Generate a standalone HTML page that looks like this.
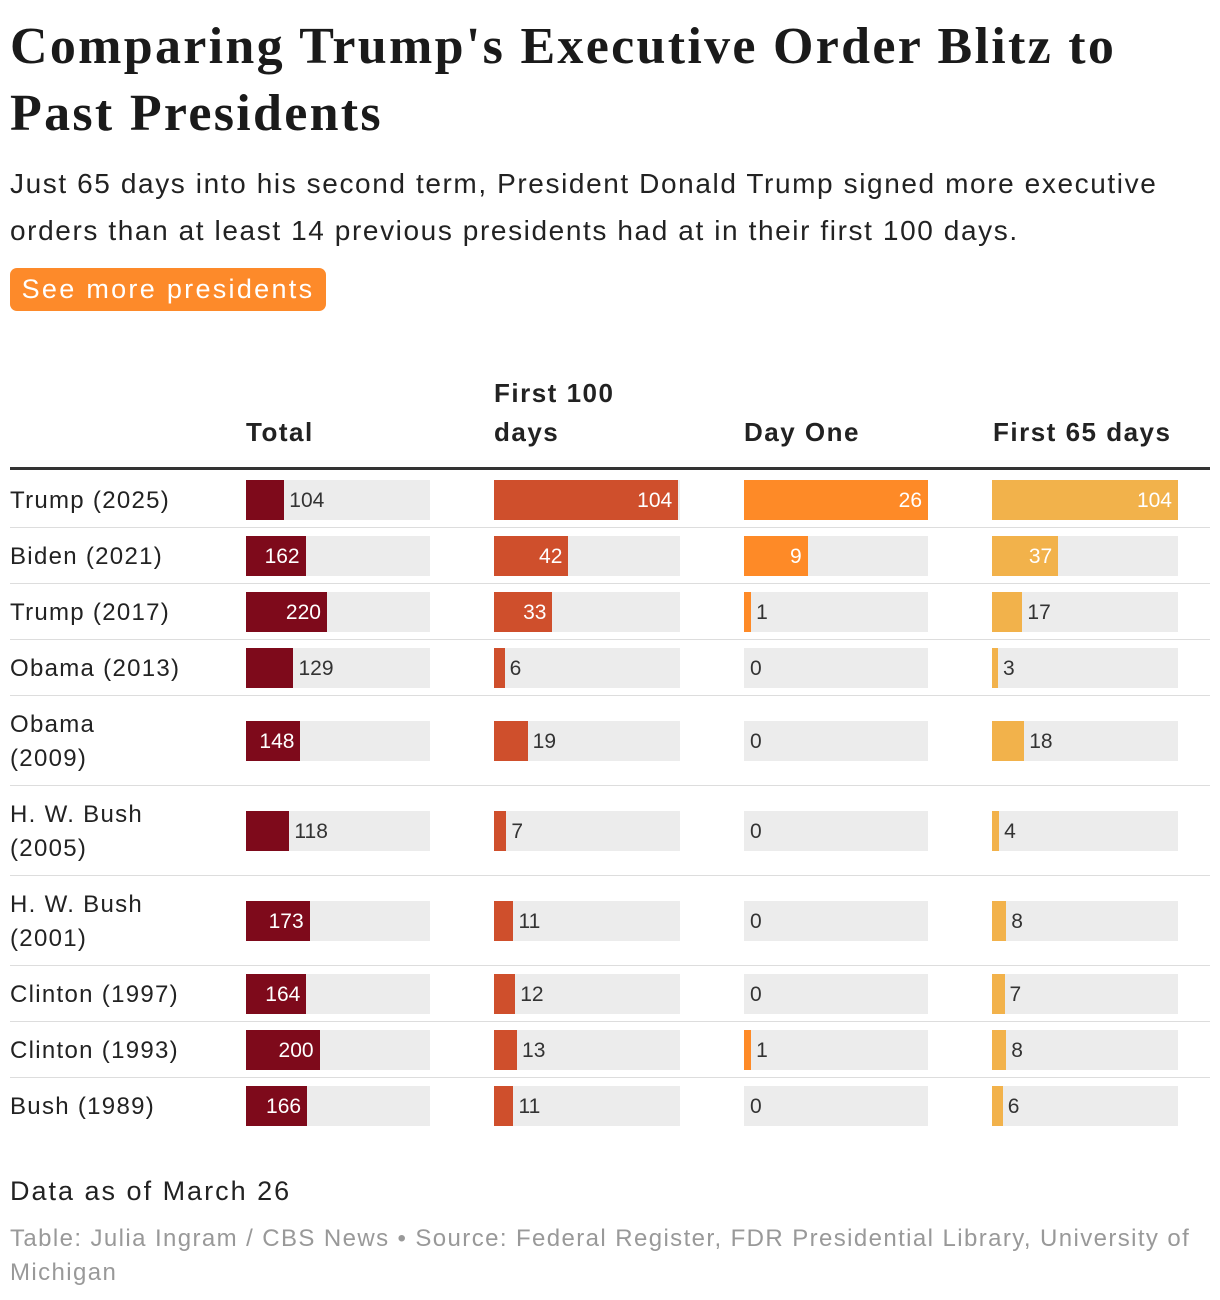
<!DOCTYPE html>
<html><head><meta charset="utf-8">
<style>
body{margin:0;width:1220px;height:1300px;background:#fff;font-family:"Liberation Sans",sans-serif;color:#222;position:relative;overflow:hidden}
.a{position:absolute;white-space:nowrap}
h1{position:absolute;left:10px;top:13px;margin:0;font-family:"Liberation Serif",serif;font-weight:bold;font-size:52px;line-height:67px;color:#1a1a1a;letter-spacing:2.3px}
.sub{left:10px;top:160px;font-size:28px;line-height:47px;color:#222;letter-spacing:1.6px}
.btn{left:10px;top:268px;width:316px;height:43px;background:#fd8a2a;border-radius:7px;color:#fff;font-size:27px;line-height:43px;text-align:center;letter-spacing:2.3px}
.hd{font-weight:bold;font-size:26px;line-height:39px;color:#222;letter-spacing:1.5px}
.nm{font-size:24px;line-height:34px;color:#222;letter-spacing:1.3px}
.lbl{font-size:21px;line-height:40px}
</style></head><body>
<h1>Comparing Trump's Executive Order Blitz to<br>Past Presidents</h1>
<div class="a sub">Just 65 days into his second term, President Donald Trump signed more executive<br>orders than at least 14 previous presidents had at in their first 100 days.</div>
<div class="a btn">See more presidents</div>
<div class="a hd" style="left:246px;top:413px">Total</div>
<div class="a hd" style="left:494px;top:374px">First 100<br>days</div>
<div class="a hd" style="left:744px;top:413px">Day One</div>
<div class="a hd" style="left:993px;top:413px">First 65 days</div>
<div class="a" style="left:10px;top:467px;width:1200px;height:3px;background:#333"></div>
<div id="rows"></div>
<div class="a" style="left:10px;top:1176px;font-size:27px;color:#222;letter-spacing:2px">Data as of March 26</div>
<div class="a" style="left:10px;top:1222px;font-size:24px;line-height:34px;color:#999;letter-spacing:1.4px">Table: Julia Ingram / CBS News • Source: Federal Register, FDR Presidential Library, University of<br>Michigan</div>
<script>
const presidents=["Trump (2025)","Biden (2021)","Trump (2017)","Obama (2013)","Obama<br>(2009)","H. W. Bush<br>(2005)","H. W. Bush<br>(2001)","Clinton (1997)","Clinton (1993)","Bush (1989)"];
const totalVals=[104,162,220,129,148,118,173,164,200,166];
const first100Vals=[104,42,33,6,19,7,11,12,13,11];
const dayOneVals=[26,9,1,0,0,0,0,0,1,0];
const first65Vals=[104,37,17,3,18,4,8,7,8,6];
const cols=[
 {name:"total",vals:totalVals,max:500,x:246,w:184,color:"#7e0a1b"},
 {name:"first-100",vals:first100Vals,max:105,x:494,w:186,color:"#cf4f2c"},
 {name:"day-one",vals:dayOneVals,max:26,x:744,w:184,color:"#fe8a27"},
 {name:"first-65",vals:first65Vals,max:104,x:992,w:186,color:"#f2b24b"}
];
const root=document.getElementById('rows');
let y=472;
presidents.forEach((p,i)=>{
 const two=p.includes('<br>');
 const h=two?90:56;
 const cy=y+h/2;
 const n=document.createElement('div');
 n.className='a nm';n.innerHTML=p;
 n.style.left='10px';n.style.top=(cy-(two?34:17)+1)+'px';
 
 
 root.appendChild(n);
 cols.forEach(c=>{
  const t=document.createElement('div');
  t.className='a';t.style.cssText=`left:${c.x}px;top:${cy-20}px;width:${c.w}px;height:40px;background:#ececec`;
  
  
  root.appendChild(t);
  const v=c.vals[i];
  const bw=Math.max(v>0?6:0,c.w*v/c.max);
  const b=document.createElement('div');
  b.className='a';b.style.cssText=`left:${c.x}px;top:${cy-20}px;width:${bw}px;height:40px;background:${c.color}`;
  
  
  root.appendChild(b);
  const l=document.createElement('div');
  l.className='a lbl';l.textContent=v;
  if(bw>=50){l.style.cssText+=`;color:#fff;top:${cy-19}px;left:${c.x}px;width:${bw-6}px;text-align:right`;}
  else{l.style.cssText+=`;color:#333;top:${cy-19}px;left:${c.x+bw+(v>0?5:6)}px`;}
  
  
  root.appendChild(l);
 });
 y+=h;
 if(i<presidents.length-1){
  const s=document.createElement('div');
  s.className='a';s.style.cssText=`left:10px;top:${y-1}px;width:1200px;height:1px;background:#ddd`;
  
  
  root.appendChild(s);
 }
});
</script>
</body></html>
